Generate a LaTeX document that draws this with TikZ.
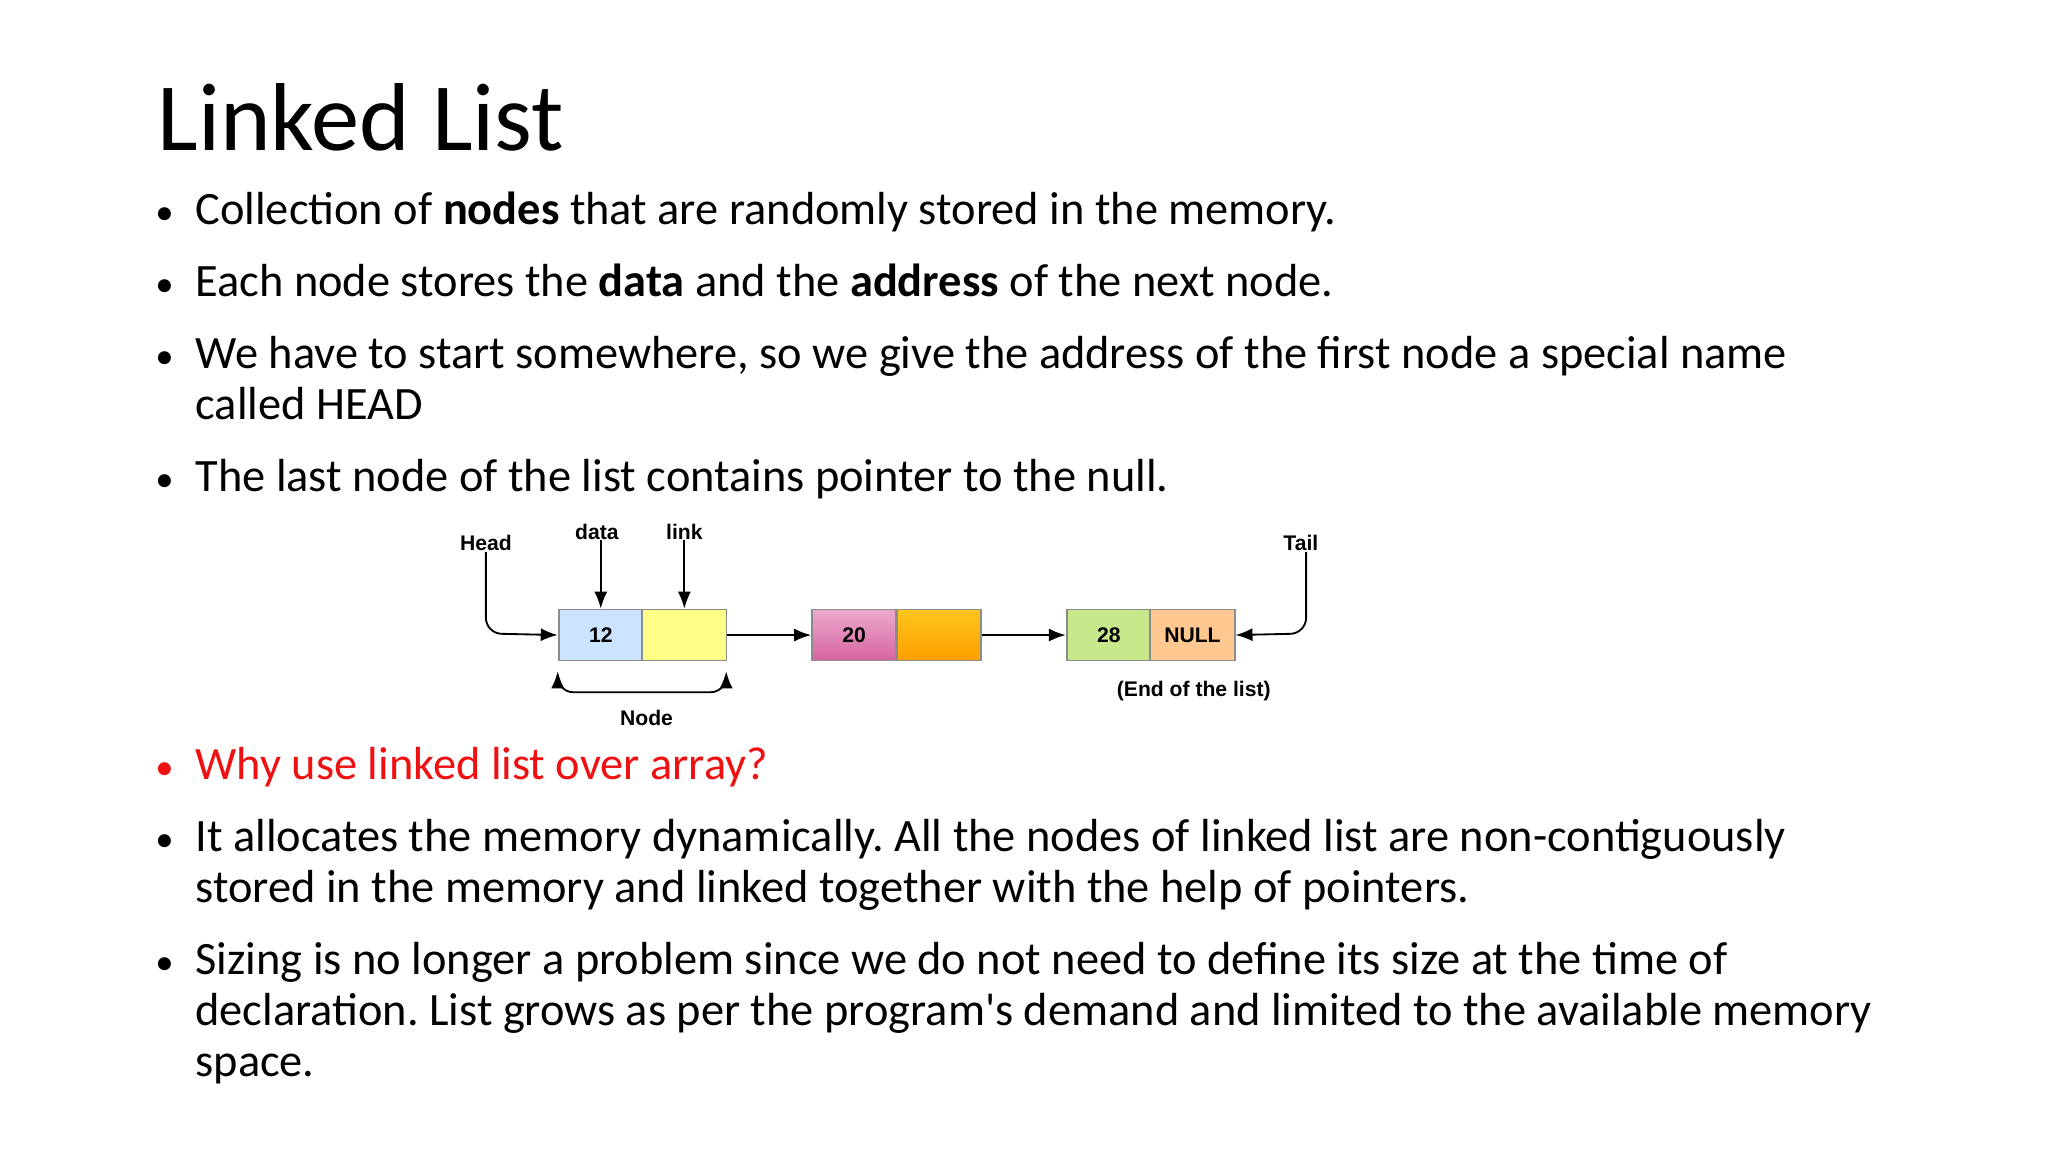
\documentclass[tikz,border=0pt]{standalone}
\usepackage{fontspec}
\setmainfont{Carlito}
\newfontfamily\dgm{Liberation Sans}
\usetikzlibrary{arrows.meta}
\definecolor{redtxt}{HTML}{EE1111}
\frenchspacing
\tikzset{
  txt/.style={anchor=base west,inner sep=0pt,font=\fontsize{10.1}{11.06}\selectfont},
  bul/.style={anchor=base,inner sep=0pt,font=\fontsize{8}{10}\selectfont},
  lab/.style={inner sep=0pt,font=\dgm\bfseries\fontsize{4.6}{5.5}\selectfont},
  cell/.style={draw=black!45,line width=0.4pt,minimum width=0.645cm,minimum height=0.39cm,inner sep=0pt,anchor=north west,font=\dgm\bfseries\fontsize{4.6}{5.5}\selectfont},
  con/.style={line width=0.4pt,-{Latex[length=1.3mm,width=1mm]},rounded corners=1.2mm},
}
\begin{document}
\begin{tikzpicture}[x=0.01cm,y=-0.01cm]
\useasboundingbox (0,0) rectangle (1568,882);
\node[anchor=base west,inner sep=0pt,font=\fontsize{21}{25}\selectfont] (title) at (120,115) {Linked List};
\node[bul] (b1) at (126,172) {•};
\node[txt] (t1) at (149,172) {Collection of \textbf{nodes} that are randomly stored in the memory.};
\node[bul] (b2) at (126,227) {•};
\node[txt] (t2) at (149,227) {Each node stores the \textbf{data} and the \textbf{address} of the next node.};
\node[bul] (b3) at (126,282) {•};
\node[txt] (t3) at (149,282) {We have to start somewhere, so we give the address of the first node a special name};
\node[txt] (t3b) at (149,321) {called HEAD};
\node[bul] (b4) at (126,376) {•};
\node[txt] (t4) at (149,376) {The last node of the list contains pointer to the null.};
\node[bul,text=redtxt] (b5) at (126,597) {•};
\node[txt,text=redtxt] (t5) at (149,597) {Why use linked list over array?};
\node[bul] (b6) at (126,652) {•};
\node[txt] (t6) at (149,652) {It allocates the memory dynamically. All the nodes of linked list are non-contiguously};
\node[txt] (t6b) at (149,691) {stored in the memory and linked together with the help of pointers.};
\node[bul] (b7) at (126,746) {•};
\node[txt] (t7) at (149,746) {Sizing is no longer a problem since we do not need to define its size at the time of};
\node[txt] (t7b) at (149,785) {declaration. List grows as per the program\textquotesingle s demand and limited to the available memory};
\node[txt] (t7c) at (149,824) {space.};
% diagram
\node[cell,fill={rgb,255:red,204;green,228;blue,255}] (d1) at (427,466) {12};
\node[cell,fill={rgb,255:red,255;green,255;blue,136}] (l1) at (491,466) {};
\node[cell,top color={rgb,255:red,236;green,170;blue,205},bottom color={rgb,255:red,214;green,100;blue,160}] (d2) at (621,466) {20};
\node[cell,top color={rgb,255:red,255;green,196;blue,30},bottom color={rgb,255:red,255;green,160;blue,0}] (l2) at (686,466) {};
\node[cell,fill={rgb,255:red,200;green,232;blue,140}] (d3) at (816,466) {28};
\node[cell,fill={rgb,255:red,255;green,200;blue,145}] (l3) at (880,466) {NULL};
\node[lab] (head) at (372,416) {Head};
\node[lab] (data) at (457,407) {data};
\node[lab] (link) at (524,407) {link};
\node[lab] (tail) at (996,416) {Tail};
\node[lab] (nodelab) at (495,550) {Node};
\node[lab] (end) at (914,529) {(End of the list)};
\coordinate (nl) at (427,514);
\coordinate (nr) at (556,514);
\draw[con] (head.south -| 372,0) -- (372,485) -- (d1.west);
\draw[con] (tail.south -| 1000,0) -- (1000,485) -- (l3.east);
\draw[con] (data.south -| d1.north) -- (d1.north);
\draw[con] (link.south -| l1.north) -- (l1.north);
\draw[con] (l1.east) -- (d2.west);
\draw[con] (l2.east) -- (d3.west);
\draw[con,{Latex[length=1.3mm,width=1mm]}-{Latex[length=1.3mm,width=1mm]}] (nl) -- (427,530) -- (556,530) -- (nr);
\end{tikzpicture}
\end{document}
